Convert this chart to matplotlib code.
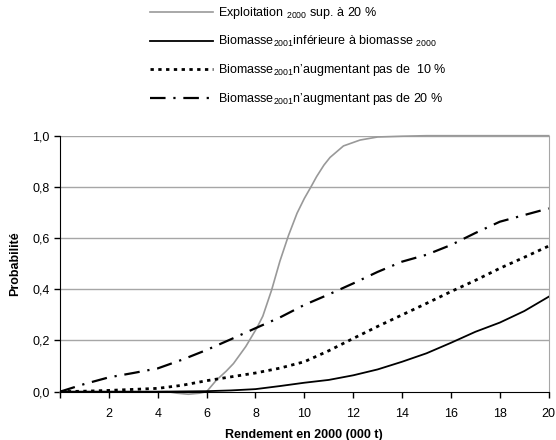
import matplotlib
matplotlib.use("Agg")
import matplotlib.pyplot as plt
from matplotlib.ticker import FuncFormatter

plt.rcParams['font.family'] = ['Liberation Sans', 'DejaVu Sans']
plt.rcParams['mathtext.fontset'] = 'custom'
plt.rcParams['mathtext.rm'] = 'Liberation Sans'
plt.rcParams['mathtext.it'] = 'Liberation Sans'
plt.rcParams['mathtext.default'] = 'regular'

# Data
x_expl = [0, 4.4, 4.8, 5.25, 5.7, 6.0, 6.4, 6.8, 7.1, 7.6, 8.05, 8.3, 8.66, 9.0, 9.35,
          9.7, 10.0, 10.27, 10.5, 10.8, 11.05, 11.6, 12.28, 13, 14, 15, 20]
p_expl = [0, 0, -0.006, -0.01, -0.006, 0.0, 0.045, 0.08, 0.11, 0.176, 0.248, 0.295, 0.397,
          0.51, 0.61, 0.697, 0.755, 0.8, 0.84, 0.885, 0.915, 0.96, 0.983, 0.995, 0.998, 1.0, 1.0]

x_bio = list(range(0, 21))
p_inf = [0, 0, 0, 0, 0, 0.001, 0.002, 0.005, 0.01, 0.022, 0.035, 0.046, 0.064,
         0.087, 0.117, 0.15, 0.191, 0.234, 0.27, 0.315, 0.371]
p_10 = [0, 0.002, 0.005, 0.009, 0.013, 0.025, 0.043, 0.058, 0.073, 0.092, 0.117,
        0.16, 0.208, 0.255, 0.3, 0.345, 0.391, 0.435, 0.482, 0.525, 0.569]
p_20 = [0, 0.03, 0.056, 0.073, 0.091, 0.125, 0.163, 0.205, 0.248, 0.29, 0.339,
        0.38, 0.423, 0.468, 0.508, 0.535, 0.573, 0.62, 0.664, 0.69, 0.716]

labels = [
    r"Exploitation $_{2000}$ sup. à 20 %",
    r"Biomasse$_{2001}$inférieure à biomasse $_{2000}$",
    r"Biomasse$_{2001}$n’augmentant pas de  10 %",
    r"Biomasse$_{2001}$n’augmentant pas de 20 %",
]
xticks = [0, 2, 4, 6, 8, 10, 12, 14, 16, 18, 20]
yticks = [0.0, 0.2, 0.4, 0.6, 0.8, 1.0]

fig = plt.figure(figsize=(5.56, 4.4), dpi=100)
ax = fig.add_axes([0.1079, 0.1098, 0.879, 0.5818])

for y in yticks[1:]:
    ax.axhline(y, color='#a6a6a6', lw=1.0, zorder=0)

l1, = ax.plot(x_expl, p_expl, color='#999999', lw=1.2, label=labels[0], zorder=3, clip_on=False)
l2, = ax.plot(x_bio, p_inf, color='black', lw=1.3, label=labels[1], zorder=4)
l3, = ax.plot(x_bio, p_10, color='black', lw=2.0, linestyle=(0, (1.2, 1.6)), label=labels[2], zorder=4)
l4, = ax.plot(x_bio, p_20, color='black', lw=1.6, linestyle=(0, (7, 3.5, 1, 3.5)), label=labels[3], zorder=4)

ax.set_xlim(0, 20)
ax.set_ylim(0, 1.0)
ax.set_xticks(xticks)
ax.set_xticklabels(['' if t == 0 else str(t) for t in xticks])
ax.set_yticks(yticks)
ax.yaxis.set_major_formatter(FuncFormatter(lambda v, p: f"{v:.1f}".replace('.', ',')))
ax.tick_params(axis='both', direction='out', length=4, width=1, labelsize=9, colors='black')
ax.tick_params(axis='x', pad=8)

ax.spines['top'].set_visible(False)
ax.spines['right'].set_color('#a6a6a6')
ax.spines['left'].set_color('black')
ax.spines['bottom'].set_color('black')
ax.spines['bottom'].set_zorder(5)

ax.set_xlabel("Rendement en 2000 (000 t)", fontsize=9, fontweight='bold', labelpad=6)
ax.set_ylabel("Probabilité", fontsize=9, fontweight='bold', labelpad=8)

fig.legend(handles=[l1, l2, l3, l4], labels=labels, loc='upper left',
           bbox_to_anchor=(150/556, 1 - 5/440), frameon=False, fontsize=9,
           handlelength=5.0, handletextpad=0.4, labelspacing=1.05,
           borderpad=0, borderaxespad=0)

fig.savefig("out.png", dpi=100)
